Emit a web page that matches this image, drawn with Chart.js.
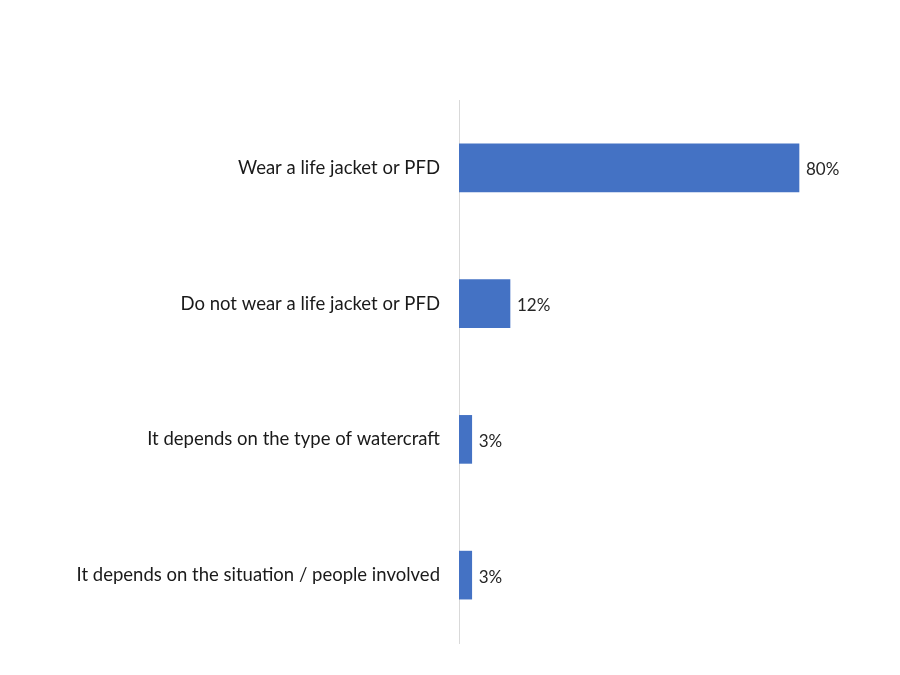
<!DOCTYPE html>
<html>
<head>
<meta charset="utf-8">
<script src="https://cdn.jsdelivr.net/npm/chart.js@4/dist/chart.umd.min.js"></script>
<style>
html,body{margin:0;padding:0;background:#fff;}
#wrap{width:900px;height:675px;position:relative;}
</style>
</head>
<body>
<div id="wrap"><canvas id="c" width="900" height="675"></canvas></div>
<script>
const categories = [
  "Wear a life jacket or PFD",
  "Do not wear a life jacket or PFD",
  "It depends on the type of watercraft",
  "It depends on the situation / people involved"
];
const values = [80, 12, 3, 3];
const valueLabels = ["80%", "12%", "3%", "3%"];

const FONT = "Lato, 'Liberation Sans', sans-serif";

const barLabels = {
  id: 'barLabels',
  afterDatasetsDraw(chart) {
    const ctx = chart.ctx;
    const meta = chart.getDatasetMeta(0);
    ctx.save();
    ctx.font = "17px " + FONT;
    ctx.fillStyle = "#262626";
    ctx.textAlign = "left";
    ctx.textBaseline = "middle";
    meta.data.forEach((bar, i) => {
      ctx.fillText(valueLabels[i], bar.x + 7, bar.y + 2);
    });
    ctx.restore();
  }
};

new Chart(document.getElementById('c'), {
  type: 'bar',
  data: {
    labels: categories,
    datasets: [{
      data: values,
      backgroundColor: '#4472C4',
      borderWidth: 0,
      barThickness: 48
    }]
  },
  options: {
    indexAxis: 'y',
    responsive: false,
    animation: false,
    devicePixelRatio: 1,
    layout: { padding: { top: 100, bottom: 32, left: 0, right: 16 } },
    plugins: { legend: { display: false }, tooltip: { enabled: false } },
    scales: {
      x: {
        display: false,
        min: 0,
        max: 100
      },
      y: {
        grid: { display: false, drawTicks: false },
        border: { display: true, color: '#d9d9d9', width: 1 },
        ticks: {
          color: '#1a1a1a',
          font: { family: FONT, size: 18.5 },
          padding: 19
        },
        afterFit(scale) { scale.width = 459; }
      }
    }
  },
  plugins: [barLabels]
});
</script>
</body>
</html>
